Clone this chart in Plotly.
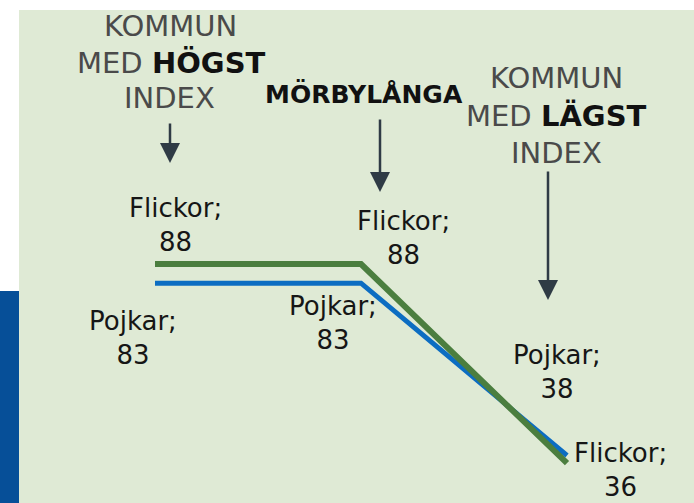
import plotly.graph_objects as go

positions = [0, 1, 2]
kommuner = ["Kommun med högst index", "Mörbylånga", "Kommun med lägst index"]
flickor = [88, 88, 36]
pojkar = [83, 83, 38]

W, H = 694, 503
BG = "#dfead5"
GREEN = "#4b7e3f"
BLUE = "#0c6dc2"
DARK = "#2f3b45"
TXT = "#161616"
LIGHT = "#4a4a4a"
FONT = "DejaVu Sans"

fig = go.Figure()
fig.add_trace(go.Scatter(x=positions, y=pojkar, mode="lines", name="Pojkar",
                         line=dict(color=BLUE, width=5), hoverinfo="skip"))
fig.add_trace(go.Scatter(x=positions, y=flickor, mode="lines", name="Flickor",
                         line=dict(color=GREEN, width=6), hoverinfo="skip"))

# backgrounds
fig.add_shape(type="rect", xref="paper", yref="paper", x0=19/W, x1=1, y0=0, y1=1-10/H,
              fillcolor=BG, line_width=0, layer="below")
fig.add_shape(type="rect", xref="paper", yref="paper", x0=0, x1=19/W, y0=0, y1=(H-291)/H,
              fillcolor="#064f98", line_width=0, layer="below")

ann = []
def lab(i, series, name, xs, ys):
    ann.append(dict(x=positions[i], y=series[i], xref="x", yref="y",
                    text=f"{name};<br>{series[i]}", showarrow=False,
                    xshift=xs, yshift=ys, xanchor="center", yanchor="middle",
                    font=dict(family=FONT, size=26, color=TXT), align="center"))

lab(0, flickor, "Flickor", 20, 39)
lab(0, pojkar, "Pojkar", -22, -55)
lab(1, flickor, "Flickor", 42, 26)
lab(1, pojkar, "Pojkar", -28, -40)
lab(2, pojkar, "Pojkar", -10, 84)
lab(2, flickor, "Flickor", 53, -7)

def head(x, y, text, size=29):
    ann.append(dict(x=x/W, y=1-y/H, xref="paper", yref="paper", text=text,
                    showarrow=False, xanchor="center", yanchor="middle",
                    font=dict(family=FONT, size=size, color=LIGHT)))

B = "<b style='color:#111'>"
head(170, 26, "KOMMUN")
head(171, 63, f"MED {B}HÖGST</b>")
head(169, 98, "INDEX")
head(556, 78, "KOMMUN")
head(556, 116, f"MED {B}LÄGST</b>")
head(556, 153, "INDEX")
ann.append(dict(x=364/W, y=1-94/H, xref="paper", yref="paper", text="<b>MÖRBYLÅNGA</b>",
                showarrow=False, xanchor="center", yanchor="middle",
                font=dict(family=FONT, size=25, color="#111")))

def arrow(i, xs, tip, tail):
    ann.append(dict(x=positions[i], y=1-tip/H, xref="x", yref="paper", text="",
                    showarrow=True, ax=0, ay=-(tip-tail), xshift=xs,
                    arrowhead=2, arrowsize=1.6, arrowwidth=2.5, arrowcolor=DARK))

arrow(0, 15, 163, 122)
arrow(1, 19, 192, 118)
arrow(2, -19, 300, 170)

x0px, step = 155, 206
y88px, ppu = 264, 3.83
fig.update_layout(
    width=W, height=H, margin=dict(l=0, r=0, t=0, b=0),
    paper_bgcolor="white", plot_bgcolor="rgba(0,0,0,0)",
    showlegend=False, annotations=ann, hovermode=False,
    xaxis=dict(range=[-x0px/step, (W-x0px)/step], visible=False, fixedrange=True),
    yaxis=dict(range=[88-(H-y88px)/ppu, 88+y88px/ppu], visible=False, fixedrange=True),
)
fig.write_html("out.html", config={"displayModeBar": False, "staticPlot": True},
               post_script="document.body.style.margin='0';document.body.style.overflow='hidden';")
